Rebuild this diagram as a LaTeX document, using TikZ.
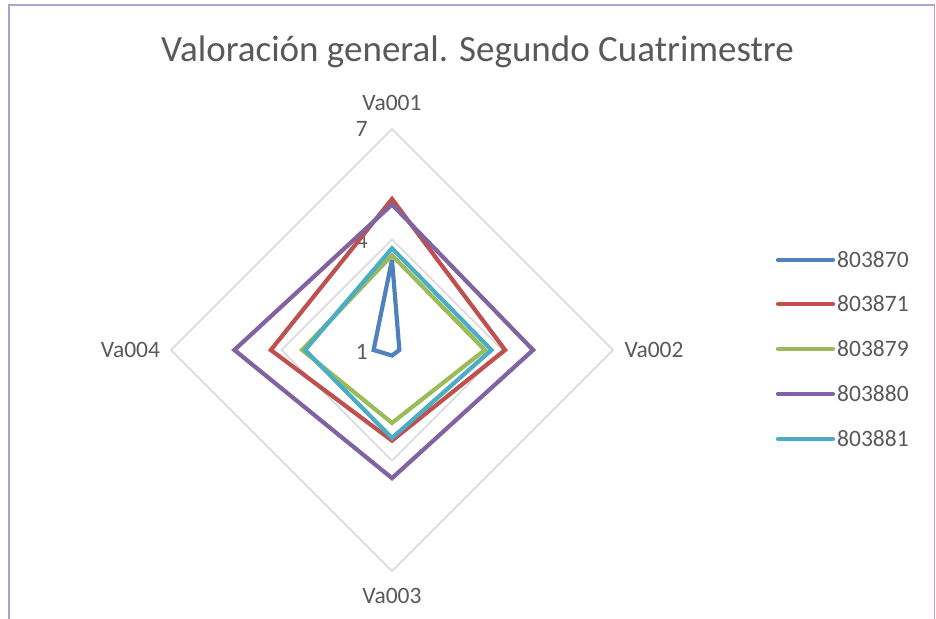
\documentclass[tikz,border=0pt]{standalone}
\usepackage{fontspec}
\setmainfont{Carlito}
\usepackage{xcolor}
\usepackage{tikz}
\usetikzlibrary{positioning,calc}
\definecolor{txtgray}{HTML}{595959}
\definecolor{gridgray}{HTML}{D9D9D9}
\definecolor{framepurple}{HTML}{B3A2C7}
\definecolor{serblue}{HTML}{4F81BD}
\definecolor{serred}{HTML}{C0504D}
\definecolor{sergreen}{HTML}{9BBB59}
\definecolor{serpurple}{HTML}{8064A2}
\definecolor{sercyan}{HTML}{4BACC6}
\tikzset{
  lbl/.style={text=txtgray,font=\fontsize{23.5}{27}\selectfont,inner sep=0pt},
  gridline/.style={draw=gridgray,line width=1.5pt},
  series/.style={line width=4.2pt,miter limit=4},
  legline/.style={line width=4.2pt,line cap=round}
}
\begin{document}
\begin{tikzpicture}[x=1pt,y=-1pt]
            \useasboundingbox (0,0) rectangle (936,618);
            % chart frame (bottom edge lies below the page)
            \draw[framepurple,line width=1.5pt] (9,640) -- (9,5) -- (934.5,5) -- (934.5,640);
            \node[text=txtgray,font=\fontsize{37}{42}\selectfont,anchor=base,inner sep=0pt] (title) at (477.5,61.5) {Valoración general. Segundo Cuatrimestre};

            % radar: value 1 at centre, dv = one step of the scale
            \def\dv{36.83}
            \coordinate (ctr) at (392,350);
            % grid diamonds at 4 and 7
            \foreach \v in {4,7}
            \draw[gridline] ($(ctr)+(0,{-(\v-1)*\dv})$) -- ($(ctr)+({(\v-1)*\dv},0)$)
                -- ($(ctr)+(0,{(\v-1)*\dv})$) -- ($(ctr)+({-(\v-1)*\dv},0)$) -- cycle;

            % axis names
            \node[lbl] (va001) at (392,103) {Va001};
            \node[lbl] (va002) at (654,350) {Va002};
            \node[lbl] (va003) at (392,596) {Va003};
            \node[lbl] (va004) at (130.5,350) {Va004};
            % scale values
            \foreach \v/\y in {7/129,4/241,1/352}
            \node[lbl,anchor=east] (tick\v) at (368,\y) {\v};

            % one closed line per group: Va001/Va002/Va003/Va004
            \foreach \col/\a/\b/\c/\d in {serblue/3.45/1.2/1.15/1.5,
                                          serred/5.1/4.07/3.46/4.29,
                                          sergreen/3.57/3.52/2.98/3.44,
                                          serpurple/4.95/4.83/4.48/5.28,
                                          sercyan/3.76/3.7/3.39/3.36}
            \draw[series,\col] ($(ctr)+(0,{-(\a-1)*\dv})$) -- ($(ctr)+({(\b-1)*\dv},0)$)
                -- ($(ctr)+(0,{(\c-1)*\dv})$) -- ($(ctr)+({-(\d-1)*\dv},0)$) -- cycle;

            % legend
            \foreach \col/\grp/\y in {serblue/803870/260,serred/803871/304,sergreen/803879/349,
                                      serpurple/803880/394,sercyan/803881/439}
            {
            \coordinate (ls\grp) at (778,\y);
            \node[lbl,anchor=west] (leg\grp) at (837,\y) {\grp};
            \draw[legline,\col] (ls\grp) -- ($(leg\grp.west)+(-4,0)$);
            }
        \end{tikzpicture}
\end{document}
